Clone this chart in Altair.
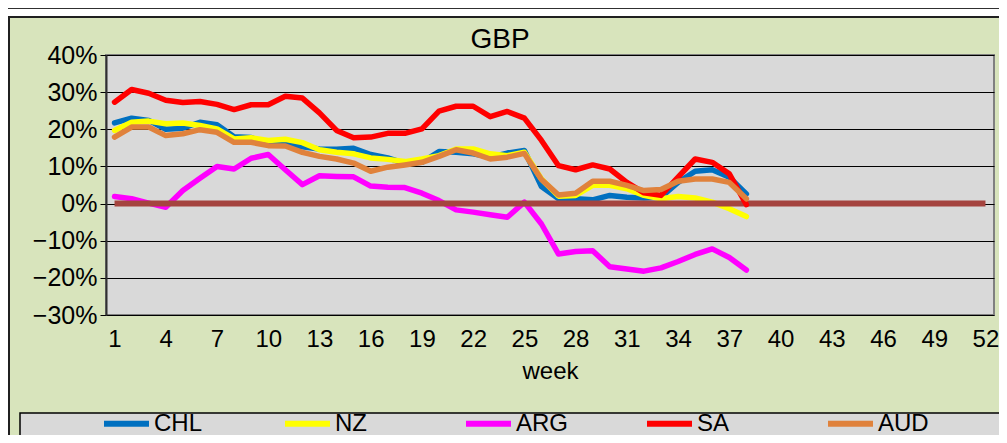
import altair as alt
import pandas as pd

# ---- data (percent values) ----
weeks = list(range(1, 39))
series_names = ["CHL", "NZ", "ARG", "SA", "AUD"]
series_colors = ["#0070C0", "#FFFF00", "#FF00FF", "#FF0000", "#E0823C"]

chl = [21.7, 23.0, 22.4, 20.0, 20.3, 21.9, 21.2, 18.0, 17.8, 15.8, 16.0, 15.3, 14.7, 14.6, 14.9,
       13.2, 12.3, 10.8, 11.1, 14.0, 13.8, 13.4, 12.5, 13.6, 14.3, 4.6, 1.3, 1.3, 1.0, 2.2,
       1.7, 1.5, 1.7, 5.7, 8.7, 9.1, 7.1, 2.6]
nz = [19.7, 21.9, 22.2, 21.5, 21.7, 21.0, 20.1, 17.4, 17.7, 17.0, 17.3, 16.4, 14.5, 13.8, 13.4,
      12.3, 11.9, 11.3, 12.0, 12.9, 14.7, 14.7, 13.4, 12.9, 13.8, 6.6, 2.0, 2.2, 4.9, 4.9,
      4.0, 2.2, 1.3, 1.9, 1.5, 0.4, -1.4, -3.5]
arg = [1.9, 1.3, 0.1, -1.0, 3.5, 6.8, 10.0, 9.3, 12.2, 13.2, 9.1, 5.1, 7.5, 7.3, 7.2,
       4.7, 4.4, 4.3, 2.8, 0.8, -1.7, -2.3, -3.0, -3.7, 0.4, -5.5, -13.6, -12.9, -12.7, -17.0,
       -17.6, -18.2, -17.3, -15.6, -13.7, -12.2, -14.5, -17.9]
sa = [27.3, 30.7, 29.7, 27.8, 27.2, 27.5, 26.7, 25.3, 26.6, 26.6, 28.9, 28.4, 24.4, 19.7, 17.7,
      17.9, 18.9, 18.9, 20.1, 24.9, 26.2, 26.2, 23.4, 24.8, 23.0, 17.0, 10.2, 9.1, 10.4, 9.3,
      5.7, 2.9, 2.2, 7.1, 12.0, 11.1, 8.0, -0.3]
aud = [17.9, 20.6, 20.6, 18.3, 18.8, 19.9, 19.2, 16.5, 16.5, 15.6, 15.5, 13.8, 12.7, 12.0, 10.9,
       8.7, 9.8, 10.4, 11.1, 12.7, 14.5, 13.6, 12.0, 12.5, 13.5, 6.5, 2.3, 2.8, 6.0, 6.0,
       4.9, 3.5, 3.8, 6.0, 6.6, 6.6, 5.7, 1.3]

zero_weeks = list(range(1, 53))
zero_vals = [0.0] * len(zero_weeks)

x_ticks = list(range(1, 53, 3))
y_ticks = [-0.3, -0.2, -0.1, 0.0, 0.1, 0.2, 0.3, 0.4]
chart_title = "GBP"

FONT = "Liberation Sans"

# ---- tables ----
rows = []
for name, vals in zip(series_names, [chl, nz, arg, sa, aud]):
    for w, v in zip(weeks, vals):
        rows.append({"week": w, "value": v / 100.0, "series": name})
df = pd.DataFrame(rows)
zero_df = pd.DataFrame({"week": zero_weeks, "value": zero_vals})

x_enc = alt.X("week:Q",
              scale=alt.Scale(domain=[0.5, 52.5], nice=False, zero=False),
              axis=alt.Axis(values=x_ticks, title="week", grid=False, ticks=False,
                            domain=False, labelFontSize=24, labelFont=FONT,
                            labelColor="black", labelPadding=12, labelFlush=False,
                            titleFontSize=24, titleFont=FONT, titleFontWeight="normal",
                            titleColor="black", titlePadding=8))
y_enc = alt.Y("value:Q",
              scale=alt.Scale(domain=[-0.3, 0.4], nice=False, zero=False),
              axis=alt.Axis(values=y_ticks, format=".0%", title=None, grid=True,
                            gridColor="black", gridWidth=1, tickColor="black",
                            tickSize=6, domainColor="#303030", domainWidth=2,
                            labelFontSize=25, labelFont=FONT, labelColor="black",
                            labelPadding=3))
color_enc = alt.Color("series:N",
                      scale=alt.Scale(domain=series_names, range=series_colors),
                      legend=alt.Legend(orient="none", legendX=-5, legendY=343,
                                        direction="horizontal", title=None,
                                        symbolType="stroke", symbolStrokeWidth=6,
                                        symbolSize=2025, labelFontSize=24,
                                        labelFont=FONT, labelColor="black",
                                        labelOffset=2, gridAlign="all",
                                        columnPadding=66, padding=0))

base = alt.Chart(df)
one = pd.DataFrame({"k": [0]})

# decorative frame pieces
frame_white = alt.Chart(one).mark_rect(color="white").encode(
    x=alt.value(-106), x2=alt.value(900), y=alt.value(-47), y2=alt.value(-38))
top_line = alt.Chart(one).mark_rect(color="#303030").encode(
    x=alt.value(-106), x2=alt.value(900), y=alt.value(-48), y2=alt.value(-46))
frame = alt.Chart(one).mark_rect(
    fill=None, fillOpacity=0, stroke="#202020", strokeWidth=2).encode(
    x=alt.value(-97), x2=alt.value(899), y=alt.value(-38), y2=alt.value(420))
legend_box = alt.Chart(one).mark_rect(
    fill="#D9D9D9", stroke="black", strokeWidth=1.5).encode(
    x=alt.value(-86), x2=alt.value(910), y=alt.value(358), y2=alt.value(420))
title_text = alt.Chart(one).mark_text(
    text=chart_title, font=FONT, fontSize=28, color="black",
    align="center", baseline="middle").encode(
    x=alt.value(394), y=alt.value(-15))

def series_layer(name):
    return base.transform_filter(alt.datum.series == name).mark_line(
        strokeWidth=5.5, strokeJoin="round", strokeCap="round").encode(
        x=x_enc, y=y_enc, color=color_enc)

zero_line = alt.Chart(zero_df).mark_line(strokeWidth=6, color="#A5443F").encode(
    x=x_enc, y=y_enc)

chart = alt.layer(
    frame_white, top_line, frame, legend_box, title_text,
    series_layer("CHL"), series_layer("NZ"), series_layer("ARG"),
    zero_line,
    series_layer("SA"), series_layer("AUD"),
).properties(
    width=888, height=260,
    padding={"left": 98, "top": 47, "right": 5, "bottom": 120},
    autosize=alt.AutoSizeParams(type="none"),
).configure(background="#D8E4BC").configure_view(
    fill="#D9D9D9", stroke="#808080", strokeWidth=2)

chart.save("out.html", embed_options={"renderer": "svg", "actions": False})
